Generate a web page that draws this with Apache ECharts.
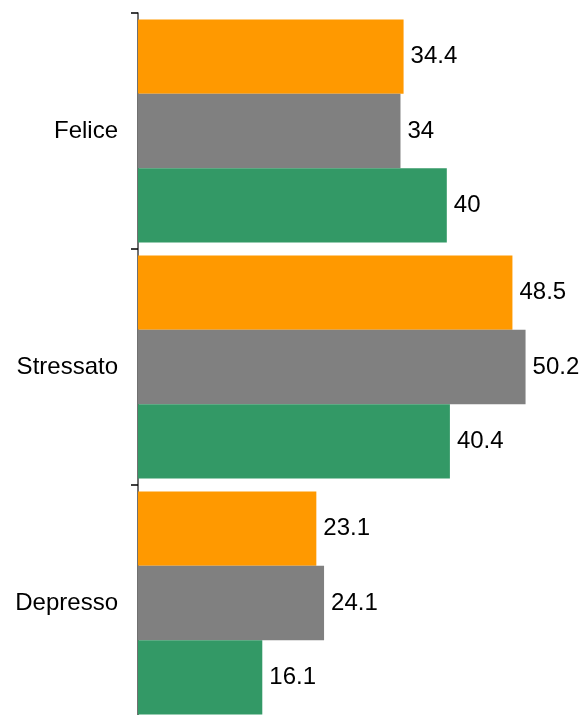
<!DOCTYPE html>
<html>
<head>
<meta charset="utf-8">
<script src="https://cdn.jsdelivr.net/npm/echarts@6/dist/echarts.min.js"></script>
<style>
  html, body { margin: 0; padding: 0; background: #fff; }
  #chart { width: 585px; height: 715px; }
</style>
</head>
<body>
<div id="chart"></div>
<script>
// Categories (top to bottom) and the three series values
const categories = ['Felice', 'Stressato', 'Depresso'];
const seriesOrange = [34.4, 48.5, 23.1];
const seriesGray = [34, 50.2, 24.1];
const seriesGreen = [40, 40.4, 16.1];

const font = "'Liberation Sans', Arial, sans-serif";

const labelStyle = {
  show: true,
  position: 'right',
  distance: 7,
  color: '#000',
  fontSize: 24,
  fontFamily: font
};

function barSeries(name, data, color) {
  return {
    name: name,
    type: 'bar',
    data: data,
    barGap: '0%',
    barCategoryGap: '5.5%',
    itemStyle: { color: color },
    label: labelStyle,
    silent: true,
    animation: false
  };
}

const chart = echarts.init(document.getElementById('chart'), null, { renderer: 'canvas' });
chart.setOption({
  animation: false,
  // the plot runs a little past the bottom edge of the canvas
  grid: { left: 138, top: 13, width: 447, height: 708, outerBoundsMode: 'none', containLabel: false },
  xAxis: {
    type: 'value',
    min: 0,
    max: 57.9,
    show: false
  },
  yAxis: {
    type: 'category',
    data: categories,
    inverse: true,
    axisLine: { show: true, lineStyle: { color: '#404040', width: 1.5 } },
    axisTick: { show: true, length: 7, lineStyle: { color: '#000', width: 1.5 } },
    axisLabel: { color: '#000', fontSize: 24, fontFamily: font, margin: 20 },
    splitLine: { show: false }
  },
  series: [
    barSeries('A', seriesOrange, '#FF9900'),
    barSeries('B', seriesGray, '#808080'),
    barSeries('C', seriesGreen, '#339966')
  ]
});
</script>
</body>
</html>
